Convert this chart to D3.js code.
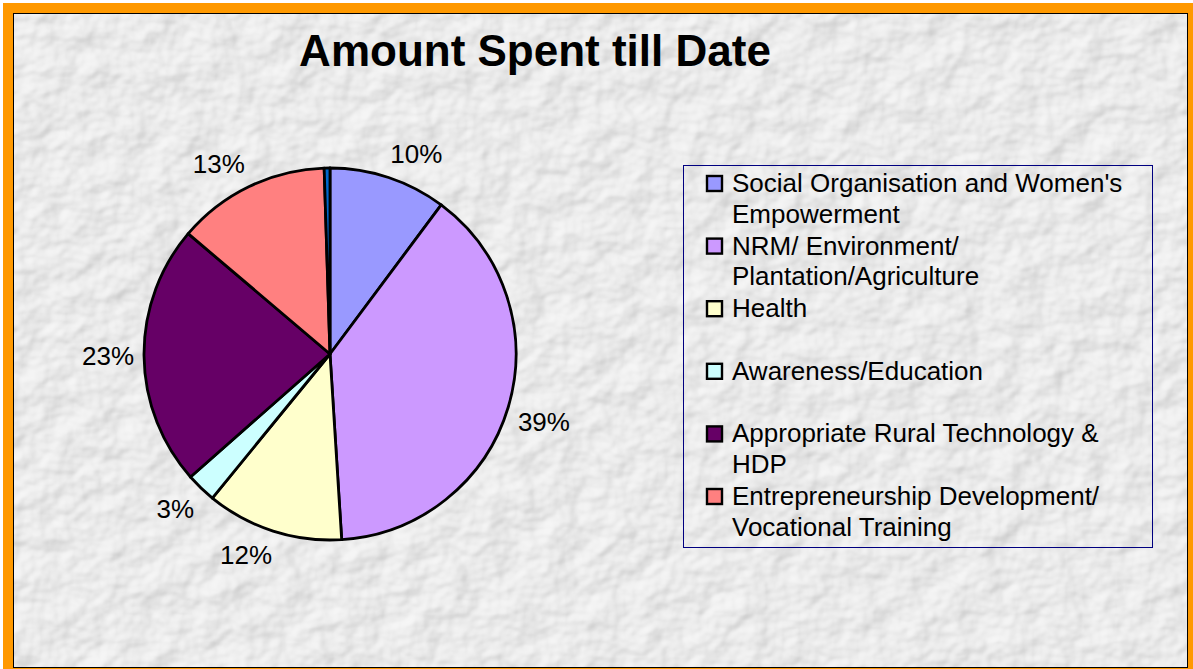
<!DOCTYPE html>
<html>
<head>
<meta charset="utf-8">
<script src="https://cdn.jsdelivr.net/npm/d3@7"></script>
<style>
  html, body { margin: 0; padding: 0; background: #ffffff; }
  svg { display: block; }
</style>
</head>
<body>
<svg id="chart" width="1193" height="669"></svg>
<script>
// ---- data ----
const categories = [
  "Social Organisation and Women's Empowerment",
  "NRM/ Environment/ Plantation/Agriculture",
  "Health",
  "Awareness/Education",
  "Appropriate Rural Technology & HDP",
  "Entrepreneurship Development/ Vocational Training",
  "Other"
];
const values = [10.2, 38.8, 11.9, 2.6, 22.7, 13.3, 0.5];
const colors = ["#9999FF", "#CC99FF", "#FFFFCC", "#CCFFFF", "#660066", "#FF8080", "#0066CC"];
const legendLines = [
  ["Social Organisation and Women's", "Empowerment"],
  ["NRM/ Environment/", "Plantation/Agriculture"],
  ["Health"],
  ["Awareness/Education"],
  ["Appropriate Rural Technology &", "HDP"],
  ["Entrepreneurship Development/", "Vocational Training"]
];
const title = "Amount Spent till Date";

// ---- layout ----
const W = 1193, H = 669;
const svg = d3.select("#chart");
const font = "'Liberation Sans', Arial, sans-serif";

const px = 13, py = 13, pw = 1175, ph = 655;

const defs = svg.append("defs");
const f = defs.append("filter").attr("id", "drops")
  .attr("filterUnits", "userSpaceOnUse")
  .attr("x", px).attr("y", py).attr("width", pw).attr("height", ph);
f.append("feTurbulence").attr("type", "fractalNoise").attr("baseFrequency", "0.03 0.035")
  .attr("numOctaves", 3).attr("seed", 11).attr("result", "noise");
const light = f.append("feDiffuseLighting").attr("in", "noise").attr("lighting-color", "#ffffff")
  .attr("surfaceScale", 6).attr("result", "light");
light.append("feDistantLight").attr("azimuth", 225).attr("elevation", 50);
f.append("feColorMatrix").attr("in", "light").attr("type", "matrix")
  .attr("values", "0.40 0 0 0 0.52  0.40 0 0 0 0.52  0.40 0 0 0 0.52  0 0 0 0 1");

// orange frame
svg.append("rect").attr("x", 3).attr("y", 3).attr("width", W - 3).attr("height", H)
  .attr("fill", "#FF9900");
// textured plot area
svg.append("rect").attr("x", px).attr("y", py).attr("width", pw).attr("height", ph)
  .attr("fill", "#d2d2d2");
svg.append("rect").attr("x", px).attr("y", py).attr("width", pw).attr("height", ph)
  .attr("filter", "url(#drops)");
svg.append("rect").attr("x", px + 0.5).attr("y", py + 0.5).attr("width", pw - 1).attr("height", ph - 1)
  .attr("fill", "none").attr("stroke", "#000").attr("stroke-width", 1);

// title
svg.append("text").attr("x", 535).attr("y", 66).attr("text-anchor", "middle")
  .attr("font-family", font).attr("font-weight", "bold").attr("font-size", 44)
  .attr("fill", "#000").text(title);

// pie
const cx = 330, cy = 354, R = 186;
const total = d3.sum(values);
const pie = d3.pie().sort(null).value(d => d)(values);
const arc = d3.arc().innerRadius(0).outerRadius(R);
const g = svg.append("g").attr("transform", `translate(${cx},${cy})`);
g.selectAll("path.slice").data(pie).join("path")
  .attr("class", "slice")
  .attr("d", arc)
  .attr("fill", (d, i) => colors[i])
  .attr("stroke", "#000").attr("stroke-width", 2.8).attr("stroke-linejoin", "round");

// data labels: placed just outside the rim, box pushed away from the pie
const pct = d3.format(".0%");
const gap = 10, boxH = 28;
const lbls = g.selectAll("text.lbl").data(pie.filter((d, i) => i < legendLines.length)).join("text")
  .attr("class", "lbl")
  .attr("text-anchor", "middle").attr("dy", "0.35em")
  .attr("font-family", font).attr("font-size", 26).attr("fill", "#000")
  .text(d => pct(d.data / total));
lbls.attr("transform", function(d) {
  const a = (d.startAngle + d.endAngle) / 2;
  const s = Math.sin(a), c = Math.cos(a);
  const w = this.getComputedTextLength();
  const clamp = v => Math.max(-1, Math.min(1, v));
  const x = (R + gap) * s + clamp(s * 3) * w / 2;
  const y = -(R + gap) * c - clamp(c * 3) * boxH / 2;
  return `translate(${x},${y})`;
});

// legend
const lx = 683, ly = 165, lw = 469, lh = 382;
svg.append("rect").attr("x", lx + 0.5).attr("y", ly + 0.5).attr("width", lw).attr("height", lh)
  .attr("fill", "none").attr("stroke", "#000080").attr("stroke-width", 1);
const itemY = d3.scaleLinear().domain([0, 5]).range([192, 505]);
const leg = svg.append("g");
legendLines.forEach((lines, i) => {
  const y = itemY(i);
  leg.append("rect").attr("x", 707).attr("y", y - 16).attr("width", 15).attr("height", 15)
    .attr("fill", colors[i]).attr("stroke", "#000").attr("stroke-width", 2.4);
  const t = leg.append("text").attr("x", 732).attr("y", y)
    .attr("font-family", font).attr("font-size", 26).attr("fill", "#000");
  lines.forEach((ln, j) => {
    t.append("tspan").attr("x", 732).attr("y", y + j * 30.5).text(ln);
  });
});
</script>
</body>
</html>
